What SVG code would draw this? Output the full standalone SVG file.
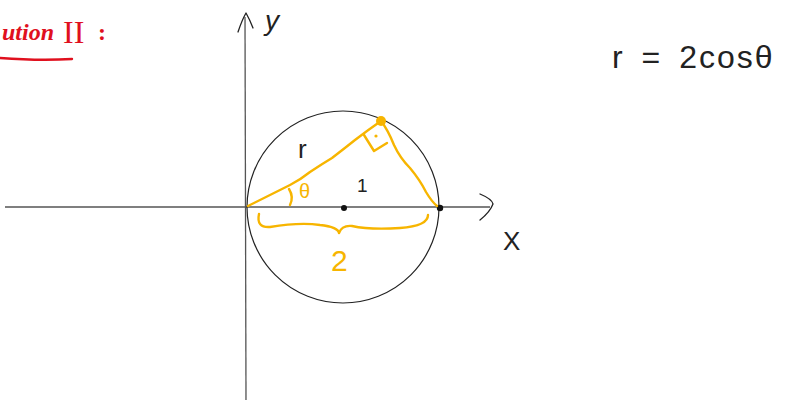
<svg xmlns="http://www.w3.org/2000/svg" width="796" height="401" viewBox="0 0 796 401">
<style>
.ink{fill:none;stroke:#222;stroke-width:1.3;stroke-linecap:round;stroke-linejoin:round}
.axis{fill:none;stroke:#555;stroke-width:1.3}
.or{fill:none;stroke:#f7b500;stroke-width:2.4;stroke-linecap:round;stroke-linejoin:round}
.red{fill:none;stroke:#e0101e;stroke-width:2.4;stroke-linecap:round}
.t{font-family:"Liberation Sans",sans-serif;fill:#222}
.to{font-family:"Liberation Sans",sans-serif;fill:#f7b500}
.tr{font-family:"Liberation Serif",serif;fill:#e0101e}
</style>
<rect width="796" height="401" fill="#fff"/>
<g id="title">
<text class="tr" x="2" y="40" font-size="24" font-style="italic" font-weight="bold">ution</text>
<text class="tr" x="63" y="43" font-size="32">II</text>
<text class="tr" x="98" y="40" font-size="24" font-weight="bold">:</text>
<path class="red" d="M0 58 Q40 61 72 59"/>
</g>
<g id="axes">
<line class="axis" x1="245" y1="17" x2="246" y2="400"/>
<path class="ink" d="M238 32 Q242 20 246 13 Q250 20 253 28"/>
<line class="axis" x1="5" y1="207" x2="490" y2="207"/>
<path class="ink" d="M480 194 Q492 199 493 204 Q490 212 480 220"/>
<text class="t" x="265" y="30" font-size="28" font-style="italic" font-weight="300">y</text>
<text class="t" x="503" y="250" font-size="26" font-weight="300">X</text>
</g>
<g id="circle">
<circle cx="343" cy="207" r="96" fill="none" stroke="#222" stroke-width="1.2"/>
<circle cx="344" cy="208" r="3" fill="#111"/>
<circle cx="440" cy="208" r="3.2" fill="#111"/>
</g>
<g id="triangle">
<path class="or" d="M248 206 Q270 195 290 185 Q300 180 310 172 Q322 164 332 158 Q345 148 355 140 Q368 130 381 121"/>
<path class="or" d="M381 121 Q388 130 394 145 Q400 158 410 168 Q420 180 426 192 Q432 202 437 206"/>
<circle cx="381" cy="121" r="5" fill="#f7b500"/>
<path class="or" d="M364 135 L374 151 L387 143"/>
<circle cx="376" cy="136" r="1.6" fill="#f7b500"/>
<path class="or" d="M289 189 Q294 197 290 205"/>
<text class="to" x="299" y="198" font-size="20">θ</text>
<text class="t" x="298" y="158" font-size="26" font-weight="300">r</text>
<text class="t" x="357" y="192" font-size="19" font-weight="300">1</text>
<path class="or" d="M259 214 Q256 228 270 227 Q300 222 320 225 Q338 227 339 233 Q342 225 352 226 Q370 230 400 228 Q428 226 428 215"/>
<text class="to" x="331" y="271" font-size="30">2</text>
</g>
<g id="equation">
<text class="t" x="612" y="68" font-size="32" font-weight="300" letter-spacing="2" word-spacing="6">r = 2cosθ</text>
</g>
</svg>
